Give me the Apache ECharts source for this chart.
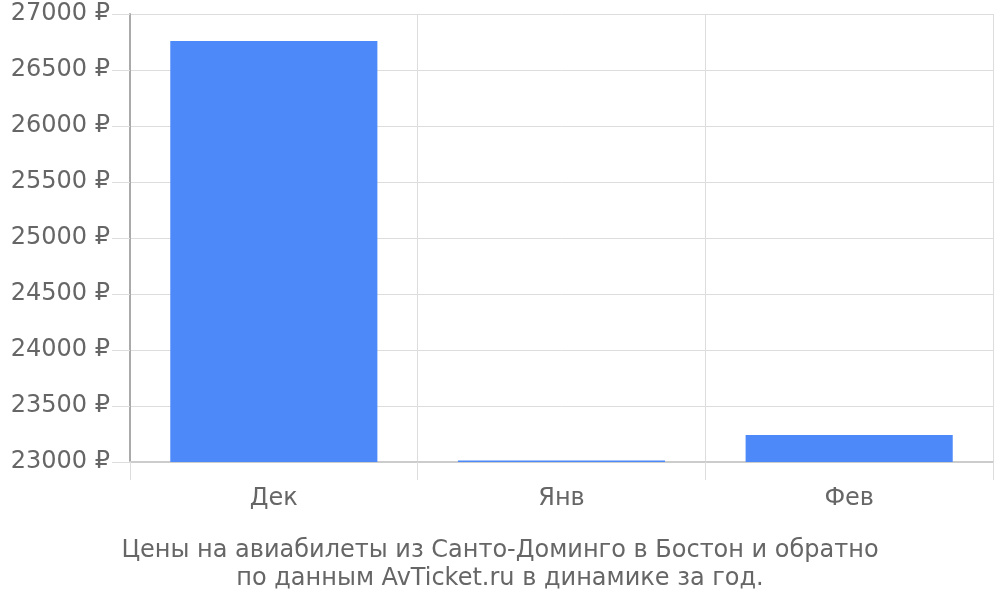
<!DOCTYPE html>
<html>
<head>
<meta charset="utf-8">
<script src="https://cdn.jsdelivr.net/npm/echarts@6/dist/echarts.min.js"></script>
<style>
  html, body { margin: 0; padding: 0; background: #fff; }
  #chart { width: 1000px; height: 600px; }
</style>
</head>
<body>
<div id="chart"></div>
<script>
var months = ['Дек', 'Янв', 'Фев'];
var prices = [26760, 23013, 23241];
var titleLines = ['Цены на авиабилеты из Санто-Доминго в Бостон и обратно', 'по данным AvTicket.ru в динамике за год.'];

var chart = echarts.init(document.getElementById('chart'));
var option = {
    backgroundColor: '#fff',
    animation: false,
    textStyle: { fontFamily: 'DejaVu Sans' },
    title: {
        text: titleLines.join('\n'),
        left: 'center',
        top: 532,
        textStyle: { color: '#666', fontSize: 24, fontWeight: 'normal', lineHeight: 28, fontFamily: 'DejaVu Sans' }
    },
    grid: { left: 130, right: 7, top: 14, bottom: 138, containLabel: false },
    xAxis: {
        type: 'category',
        data: months,
        axisLine: { lineStyle: { color: '#ccc', width: 2 } },
        axisTick: { show: true, length: 18, lineStyle: { color: '#ddd' } },
        splitLine: { show: true, lineStyle: { color: '#ddd' } },
        axisLabel: { color: '#666', fontSize: 24, margin: 25 }
    },
    yAxis: {
        type: 'value',
        min: 23000,
        max: 27000,
        interval: 500,
        axisLine: { show: true, lineStyle: { color: '#aaa', width: 2 } },
        axisTick: { show: true, length: 18, lineStyle: { color: '#ddd' } },
        splitLine: { lineStyle: { color: '#ddd' } },
        axisLabel: { color: '#666', fontSize: 24, margin: 20, padding: [3, 0, 0, 0], formatter: function (v) { return v + ' ₽'; } }
    },
    series: [{
        type: 'bar',
        data: prices,
        barCategoryGap: '28%',
        itemStyle: { color: '#4d89f9' }
    }]
};
chart.setOption(option);
</script>
</body>
</html>
